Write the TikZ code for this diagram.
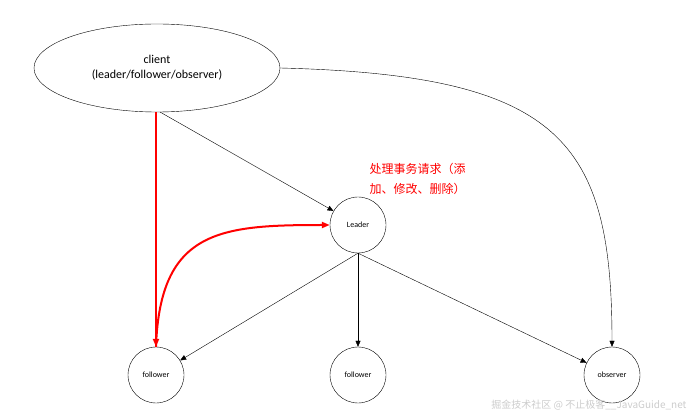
\documentclass[tikz,border=0pt]{standalone}
\usepackage{fontspec}
\setmainfont{Carlito}
\newfontfamily\cjk{Noto Sans CJK SC}
\usetikzlibrary{shapes.geometric,arrows.meta}
\begin{document}
\begin{tikzpicture}[x=1pt,y=-1pt,
    role/.style={draw,circle,minimum size=56pt,inner sep=0pt,font=\fontsize{8}{9}\selectfont},
    link/.style={-{Triangle[length=6pt,width=5pt]},thin},
    hot/.style={-{Triangle[length=8pt,width=6pt]},red,line width=2pt},]

    \useasboundingbox (0,0) rectangle (693,419);

    \node[draw,ellipse,minimum width=246pt,minimum height=88pt,align=center,
      font=\fontsize{12}{15}\selectfont] (client) at (157,68)
      {client\\(leader/follower/observer)};

    \node[role] (leader) at (358,225) {Leader};
    \node[role] (f1) at (156,375) {follower};
    \node[role] (f2) at (358,375) {follower};
    \node[role] (obs) at (612,375) {observer};

    \coordinate (c1) at (156,112);
    \coordinate (c2) at (160,112);

    \draw[link] (c2) -- (leader);
    \draw[link] (client.east) .. controls (560,75) and (612,140) .. (obs.north);
    \draw[link] (leader.south) -- (f1);
    \draw[link] (leader.south) -- (f2);
    \draw[link] (leader.south) -- (obs);

    \draw[hot] (c1) -- (f1.north);
    \draw[hot] (f1.north) .. controls (160,230) and (220,225) .. (leader.west);

    \node[anchor=north west,red,align=left,font=\cjk\fontsize{12}{20}\selectfont]
      (note) at (366,160) {处理事务请求（添\\加、修改、删除）};

    \node[anchor=south east,gray!40,font=\cjk\fontsize{10}{12}\selectfont]
      (mark) at (690,414) {掘金技术社区 @ 不止极客\_\_JavaGuide\_net};

  \end{tikzpicture}
\end{document}
